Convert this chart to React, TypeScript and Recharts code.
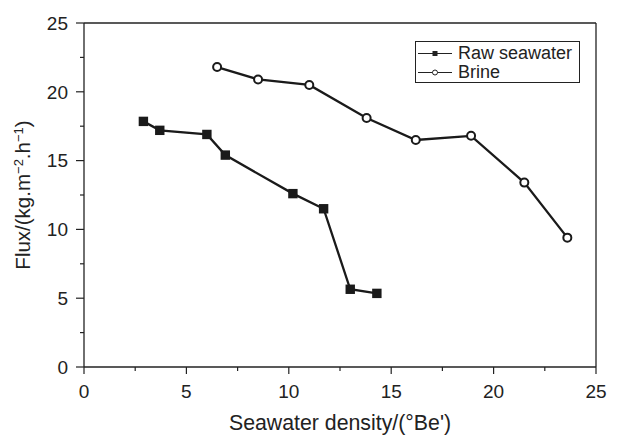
import { LineChart, Line, XAxis, YAxis, ReferenceLine, Legend, Label } from 'recharts';

const rawDensity = [2.9, 3.7, 6.0, 6.9, 10.2, 11.7, 13.0, 14.3];
const rawFlux = [17.85, 17.2, 16.9, 15.4, 12.6, 11.5, 5.65, 5.35];
const brineDensity = [6.5, 8.5, 11.0, 13.8, 16.2, 18.9, 21.5, 23.6];
const brineFlux = [21.8, 20.9, 20.5, 18.1, 16.5, 16.8, 13.4, 9.4];
const axisTicks = [0, 2.5, 5, 7.5, 10, 12.5, 15, 17.5, 20, 22.5, 25];

const rawData = rawDensity.map((d, i) => ({ density: d, flux: rawFlux[i] }));
const brineData = brineDensity.map((d, i) => ({ density: d, flux: brineFlux[i] }));

const INK = '#222';
const FONT = '"Liberation Sans", Arial, sans-serif';

function YTick(props: any) {
  const { x, y, payload } = props;
  const major = payload.value % 5 === 0;
  return (
    <g>
      <line x1={x} x2={x - (major ? 8 : 4)} y1={y} y2={y} stroke={INK} strokeWidth={1.2} />
      {major && (
        <text x={x - 16} y={y} dy="0.36em" textAnchor="end" fontSize={19} fontFamily={FONT} fill={INK}>
          {payload.value}
        </text>
      )}
    </g>
  );
}

function XTick(props: any) {
  const { x, y, payload } = props;
  const major = payload.value % 5 === 0;
  return (
    <g>
      <line x1={x} x2={x} y1={y} y2={y + (major ? 7 : 4)} stroke={INK} strokeWidth={1.2} />
      {major && (
        <text x={x} y={y + 31} textAnchor="middle" fontSize={19} fontFamily={FONT} fill={INK}>
          {payload.value}
        </text>
      )}
    </g>
  );
}

function XTitle(props: any) {
  const vb = props.viewBox;
  return (
    <text x={vb.x + vb.width / 2} y={vb.y + 63} textAnchor="middle" fontSize={21.3} fontFamily={FONT} fill={INK}>
      Seawater density/(°Be')
    </text>
  );
}

function YTitle(props: any) {
  const vb = props.viewBox;
  const cx = 30;
  const cy = vb.y + vb.height / 2;
  return (
    <text x={cx} y={cy} transform={`rotate(-90, ${cx}, ${cy})`} textAnchor="middle" fontSize={20.5} fontFamily={FONT} fill={INK}>
      Flux/(kg.m<tspan dy={-7} fontSize={13}>−2</tspan>
      <tspan dy={7}>.h</tspan>
      <tspan dy={-7} fontSize={13}>−1</tspan>
      <tspan dy={7}>)</tspan>
    </text>
  );
}

function SquareDot(props: any) {
  const { cx, cy } = props;
  return <rect key={`sq-${cx}-${cy}`} x={cx - 4.7} y={cy - 4.7} width={9.4} height={9.4} fill="#1a1a1a" />;
}

function CircleDot(props: any) {
  const { cx, cy } = props;
  return <circle key={`ci-${cx}-${cy}`} cx={cx} cy={cy} r={4} fill="#fff" stroke="#1a1a1a" strokeWidth={2} />;
}

function LegendBox() {
  const row = (circle: boolean, label: string) => (
    <div style={{ display: 'flex', alignItems: 'center', height: 19 }}>
      <svg width={40} height={19} style={{ display: 'block' }}>
        <line x1={2} x2={36} y1={9.5} y2={9.5} stroke={INK} strokeWidth={1.2} />
        {circle ? (
          <circle cx={19} cy={9.5} r={2.5} fill="#fff" stroke={INK} strokeWidth={1} />
        ) : (
          <rect x={16.5} y={7} width={5} height={5} fill={INK} />
        )}
      </svg>
      <span style={{ marginLeft: 2, lineHeight: '19px' }}>{label}</span>
    </div>
  );
  return (
    <div
      style={{
        border: `1.3px solid ${INK}`,
        width: 165,
        height: 42,
        boxSizing: 'border-box',
        paddingTop: 2,
        fontFamily: FONT,
        fontSize: 18,
        color: INK,
        lineHeight: '19px',
      }}
    >
      {row(false, 'Raw seawater')}
      {row(true, 'Brine')}
    </div>
  );
}

export default function App() {
  return (
    <div style={{ position: 'absolute', left: 0, top: 0, background: '#fff' }}>
      <LineChart width={619} height={436} margin={{ top: 23, right: 23, left: 0, bottom: 0 }}>
        <XAxis
          dataKey="density"
          type="number"
          domain={[0, 25]}
          ticks={axisTicks}
          interval={0}
          height={69}
          tickSize={0}
          tickMargin={0}
          tick={<XTick />}
          stroke={INK}
          strokeWidth={1.3}
          allowDuplicatedCategory={false}
        >
          <Label content={<XTitle />} />
        </XAxis>
        <YAxis
          dataKey="flux"
          type="number"
          domain={[0, 25]}
          ticks={axisTicks}
          interval={0}
          width={84}
          tickSize={0}
          tickMargin={0}
          tick={<YTick />}
          stroke={INK}
          strokeWidth={1.3}
        >
          <Label content={<YTitle />} />
        </YAxis>
        <ReferenceLine y={25} stroke={INK} strokeWidth={1.3} />
        <ReferenceLine x={25} stroke={INK} strokeWidth={1.3} />
        <Legend
          layout="vertical"
          align="center"
          verticalAlign="middle"
          content={<LegendBox />}
          wrapperStyle={{ left: 415, top: 41, width: 165 }}
        />
        <Line
          name="Raw seawater"
          data={rawData}
          dataKey="flux"
          stroke="#1a1a1a"
          strokeWidth={2.3}
          dot={<SquareDot />}
          activeDot={false}
          isAnimationActive={false}
        />
        <Line
          name="Brine"
          data={brineData}
          dataKey="flux"
          stroke="#1a1a1a"
          strokeWidth={2.3}
          dot={<CircleDot />}
          activeDot={false}
          isAnimationActive={false}
        />
      </LineChart>
    </div>
  );
}
